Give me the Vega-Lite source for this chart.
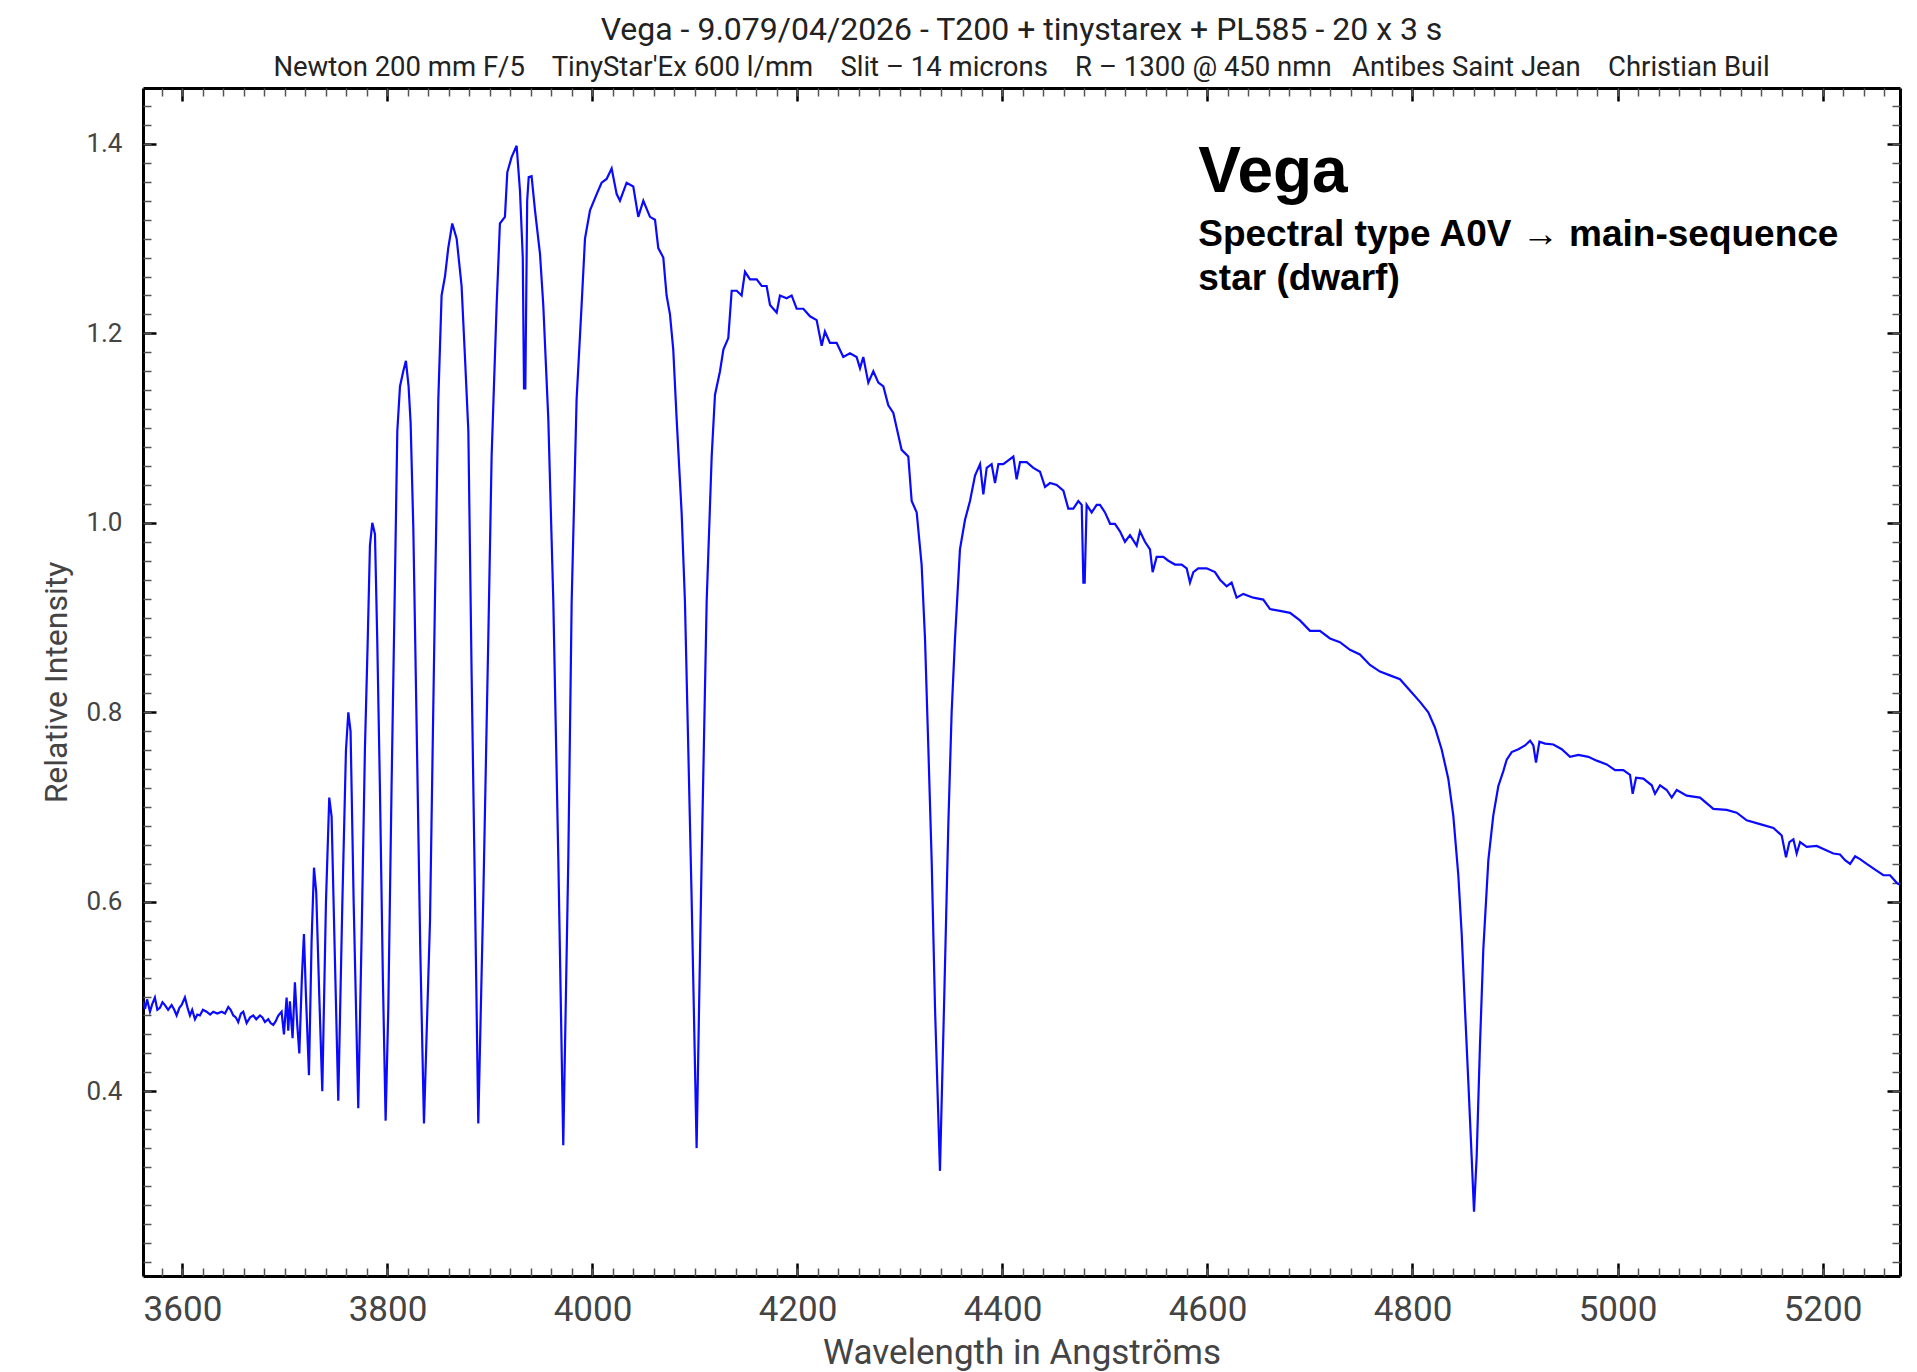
{
  "$schema": "https://vega.github.io/schema/vega-lite/v6.json",
  "width": 1757,
  "height": 1188,
  "autosize": {"type": "none"},
  "padding": {"left": 143, "top": 88, "right": 17, "bottom": 96},
  "background": "white",
  "config": {"view": {"stroke": null}, "axis": {"grid": false}},
  "title": {
    "text": "Vega - 9.079/04/2026 - T200 + tinystarex + PL585 - 20 x 3 s",
    "subtitle": "Newton 200 mm F/5\u00a0\u00a0\u00a0 TinyStar'Ex 600 l/mm\u00a0\u00a0\u00a0 Slit \u2013 14 microns\u00a0\u00a0\u00a0 R \u2013 1300 @ 450 nmn\u00a0\u00a0 Antibes Saint Jean\u00a0\u00a0\u00a0 Christian Buil",
    "font": "Roboto", "fontSize": 32, "fontWeight": "normal", "color": "#222",
    "subtitleFont": "Roboto", "subtitleFontSize": 27.5, "subtitleColor": "#222",
    "anchor": "middle", "offset": 4, "subtitlePadding": 7
  },
  "data": {"values": [
    {"wl":3561.5,"v":0.495},{"wl":3563.5,"v":0.487},{"wl":3565.5,"v":0.497},{"wl":3568.3,"v":0.484},{"wl":3570.5,"v":0.492},
    {"wl":3573.1,"v":0.499},{"wl":3575.5,"v":0.486},{"wl":3578.0,"v":0.488},{"wl":3580.5,"v":0.494},{"wl":3582.9,"v":0.491},
    {"wl":3586.0,"v":0.486},{"wl":3589.4,"v":0.491},{"wl":3592.0,"v":0.486},{"wl":3594.3,"v":0.480},{"wl":3597.0,"v":0.488},
    {"wl":3599.2,"v":0.491},{"wl":3602.4,"v":0.499},{"wl":3605.0,"v":0.488},{"wl":3607.3,"v":0.480},{"wl":3609.5,"v":0.486},
    {"wl":3612.2,"v":0.476},{"wl":3614.5,"v":0.481},{"wl":3617.0,"v":0.480},{"wl":3620.0,"v":0.486},{"wl":3623.5,"v":0.484},
    {"wl":3627.0,"v":0.481},{"wl":3630.0,"v":0.484},{"wl":3634.0,"v":0.482},{"wl":3638.2,"v":0.484},{"wl":3641.5,"v":0.482},
    {"wl":3644.7,"v":0.489},{"wl":3647.0,"v":0.486},{"wl":3649.6,"v":0.480},{"wl":3652.0,"v":0.478},{"wl":3654.4,"v":0.473},
    {"wl":3657.0,"v":0.482},{"wl":3659.3,"v":0.484},{"wl":3662.6,"v":0.472},{"wl":3666.0,"v":0.478},{"wl":3669.1,"v":0.480},
    {"wl":3672.0,"v":0.476},{"wl":3675.6,"v":0.480},{"wl":3678.0,"v":0.478},{"wl":3680.5,"v":0.473},{"wl":3683.7,"v":0.476},
    {"wl":3686.0,"v":0.472},{"wl":3688.6,"v":0.470},{"wl":3691.0,"v":0.474},{"wl":3693.5,"v":0.480},{"wl":3696.7,"v":0.484},
    {"wl":3699.0,"v":0.460},{"wl":3701.6,"v":0.499},{"wl":3703.2,"v":0.464},{"wl":3704.8,"v":0.495},{"wl":3707.4,"v":0.456},
    {"wl":3709.7,"v":0.515},{"wl":3712.0,"v":0.470},{"wl":3714.0,"v":0.440},{"wl":3716.5,"v":0.520},{"wl":3718.5,"v":0.566},
    {"wl":3720.5,"v":0.500},{"wl":3723.4,"v":0.417},{"wl":3726.0,"v":0.560},{"wl":3728.3,"v":0.636},{"wl":3730.5,"v":0.610},
    {"wl":3733.5,"v":0.500},{"wl":3736.4,"v":0.400},{"wl":3740.0,"v":0.600},{"wl":3743.2,"v":0.710},{"wl":3745.5,"v":0.690},
    {"wl":3748.5,"v":0.550},{"wl":3752.0,"v":0.390},{"wl":3756.0,"v":0.600},{"wl":3759.5,"v":0.760},{"wl":3761.8,"v":0.800},
    {"wl":3764.0,"v":0.780},{"wl":3767.0,"v":0.600},{"wl":3771.5,"v":0.382},{"wl":3774.8,"v":0.566},{"wl":3778.0,"v":0.761},
    {"wl":3780.6,"v":0.870},{"wl":3782.9,"v":0.976},{"wl":3785.2,"v":1.000},{"wl":3787.8,"v":0.988},{"wl":3790.0,"v":0.878},
    {"wl":3792.6,"v":0.722},{"wl":3795.5,"v":0.520},{"wl":3798.2,"v":0.369},{"wl":3800.8,"v":0.487},{"wl":3804.0,"v":0.722},
    {"wl":3807.3,"v":0.940},{"wl":3809.6,"v":1.097},{"wl":3812.2,"v":1.144},{"wl":3815.4,"v":1.160},{"wl":3818.0,"v":1.171},
    {"wl":3820.6,"v":1.144},{"wl":3822.6,"v":1.105},{"wl":3825.2,"v":0.995},{"wl":3829.0,"v":0.750},{"wl":3832.0,"v":0.550},
    {"wl":3835.6,"v":0.366},{"wl":3841.5,"v":0.580},{"wl":3846.3,"v":0.917},{"wl":3849.6,"v":1.130},{"wl":3852.8,"v":1.240},
    {"wl":3856.1,"v":1.260},{"wl":3859.3,"v":1.290},{"wl":3863.2,"v":1.316},{"wl":3867.5,"v":1.300},{"wl":3872.3,"v":1.250},
    {"wl":3875.6,"v":1.175},{"wl":3878.9,"v":1.097},{"wl":3882.1,"v":0.840},{"wl":3885.4,"v":0.605},{"wl":3888.6,"v":0.366},
    {"wl":3893.5,"v":0.605},{"wl":3898.4,"v":0.880},{"wl":3901.6,"v":1.070},{"wl":3906.5,"v":1.230},{"wl":3909.7,"v":1.316},
    {"wl":3914.6,"v":1.323},{"wl":3916.9,"v":1.370},{"wl":3921.1,"v":1.386},{"wl":3926.0,"v":1.398},{"wl":3929.3,"v":1.350},
    {"wl":3932.0,"v":1.280},{"wl":3933.2,"v":1.142},{"wl":3934.5,"v":1.142},{"wl":3936.3,"v":1.340},{"wl":3937.8,"v":1.365},
    {"wl":3940.6,"v":1.366},{"wl":3943.9,"v":1.330},{"wl":3948.8,"v":1.284},{"wl":3952.0,"v":1.230},{"wl":3956.9,"v":1.110},
    {"wl":3961.8,"v":0.917},{"wl":3966.7,"v":0.644},{"wl":3971.5,"v":0.343},{"wl":3976.4,"v":0.644},{"wl":3979.7,"v":0.917},
    {"wl":3984.5,"v":1.130},{"wl":3989.4,"v":1.230},{"wl":3992.7,"v":1.300},{"wl":3997.6,"v":1.330},{"wl":4004.1,"v":1.347},
    {"wl":4008.9,"v":1.359},{"wl":4013.8,"v":1.363},{"wl":4018.7,"v":1.374},{"wl":4023.6,"v":1.347},{"wl":4026.8,"v":1.340},
    {"wl":4033.3,"v":1.359},{"wl":4039.8,"v":1.355},{"wl":4044.7,"v":1.323},{"wl":4049.6,"v":1.340},{"wl":4056.1,"v":1.323},
    {"wl":4061.0,"v":1.320},{"wl":4064.2,"v":1.290},{"wl":4069.1,"v":1.280},{"wl":4072.3,"v":1.240},{"wl":4075.6,"v":1.220},
    {"wl":4078.8,"v":1.183},{"wl":4082.1,"v":1.110},{"wl":4087.0,"v":1.010},{"wl":4090.2,"v":0.917},{"wl":4093.5,"v":0.760},
    {"wl":4096.7,"v":0.605},{"wl":4101.6,"v":0.340},{"wl":4106.5,"v":0.644},{"wl":4111.4,"v":0.917},{"wl":4116.3,"v":1.070},
    {"wl":4119.5,"v":1.135},{"wl":4124.4,"v":1.160},{"wl":4127.7,"v":1.183},{"wl":4132.5,"v":1.195},{"wl":4135.8,"v":1.245},
    {"wl":4140.7,"v":1.245},{"wl":4145.5,"v":1.240},{"wl":4148.8,"v":1.265},{"wl":4153.7,"v":1.257},{"wl":4160.2,"v":1.257},
    {"wl":4165.1,"v":1.250},{"wl":4169.9,"v":1.250},{"wl":4173.2,"v":1.230},{"wl":4176.4,"v":1.226},{"wl":4179.7,"v":1.222},
    {"wl":4182.9,"v":1.240},{"wl":4189.4,"v":1.237},{"wl":4194.3,"v":1.240},{"wl":4199.2,"v":1.226},{"wl":4205.7,"v":1.226},
    {"wl":4212.2,"v":1.218},{"wl":4218.7,"v":1.214},{"wl":4223.6,"v":1.187},{"wl":4226.8,"v":1.202},{"wl":4231.7,"v":1.190},
    {"wl":4238.2,"v":1.190},{"wl":4244.7,"v":1.175},{"wl":4251.2,"v":1.179},{"wl":4257.7,"v":1.175},{"wl":4261.0,"v":1.163},
    {"wl":4264.2,"v":1.175},{"wl":4269.1,"v":1.148},{"wl":4274.0,"v":1.160},{"wl":4278.9,"v":1.148},{"wl":4283.8,"v":1.144},
    {"wl":4288.6,"v":1.124},{"wl":4293.5,"v":1.116},{"wl":4296.8,"v":1.100},{"wl":4301.6,"v":1.077},{"wl":4308.1,"v":1.070},
    {"wl":4311.4,"v":1.023},{"wl":4316.3,"v":1.011},{"wl":4321.1,"v":0.956},{"wl":4324.4,"v":0.878},{"wl":4327.7,"v":0.761},
    {"wl":4330.9,"v":0.644},{"wl":4334.2,"v":0.487},{"wl":4339.0,"v":0.316},{"wl":4342.9,"v":0.487},{"wl":4347.2,"v":0.683},
    {"wl":4350.4,"v":0.800},{"wl":4353.7,"v":0.878},{"wl":4358.5,"v":0.972},{"wl":4363.4,"v":1.003},{"wl":4368.3,"v":1.023},
    {"wl":4373.2,"v":1.050},{"wl":4378.1,"v":1.062},{"wl":4381.3,"v":1.030},{"wl":4384.6,"v":1.058},{"wl":4389.4,"v":1.062},
    {"wl":4392.7,"v":1.042},{"wl":4396.0,"v":1.062},{"wl":4400.8,"v":1.062},{"wl":4405.7,"v":1.066},{"wl":4410.6,"v":1.070},
    {"wl":4413.8,"v":1.046},{"wl":4417.1,"v":1.064},{"wl":4423.6,"v":1.064},{"wl":4430.1,"v":1.058},{"wl":4436.6,"v":1.054},
    {"wl":4441.5,"v":1.038},{"wl":4446.4,"v":1.042},{"wl":4452.9,"v":1.040},{"wl":4459.4,"v":1.034},{"wl":4464.2,"v":1.015},
    {"wl":4469.1,"v":1.015},{"wl":4474.0,"v":1.023},{"wl":4477.3,"v":1.019},{"wl":4478.9,"v":0.937},{"wl":4480.2,"v":0.937},
    {"wl":4482.1,"v":1.019},{"wl":4487.0,"v":1.011},{"wl":4491.9,"v":1.019},{"wl":4495.1,"v":1.019},{"wl":4500.0,"v":1.011},
    {"wl":4505.0,"v":0.999},{"wl":4509.7,"v":0.999},{"wl":4514.6,"v":0.991},{"wl":4519.5,"v":0.980},{"wl":4524.4,"v":0.987},
    {"wl":4530.9,"v":0.976},{"wl":4534.1,"v":0.991},{"wl":4539.0,"v":0.980},{"wl":4543.9,"v":0.972},{"wl":4546.5,"v":0.948},
    {"wl":4550.4,"v":0.964},{"wl":4556.9,"v":0.964},{"wl":4561.8,"v":0.960},{"wl":4568.3,"v":0.956},{"wl":4574.8,"v":0.956},
    {"wl":4579.7,"v":0.952},{"wl":4582.9,"v":0.937},{"wl":4586.2,"v":0.948},{"wl":4591.0,"v":0.952},{"wl":4599.2,"v":0.952},
    {"wl":4607.3,"v":0.948},{"wl":4612.2,"v":0.940},{"wl":4618.7,"v":0.933},{"wl":4623.5,"v":0.937},{"wl":4628.4,"v":0.921},
    {"wl":4634.9,"v":0.925},{"wl":4644.7,"v":0.921},{"wl":4654.4,"v":0.919},{"wl":4661.0,"v":0.909},{"wl":4670.7,"v":0.907},
    {"wl":4680.5,"v":0.905},{"wl":4690.2,"v":0.897},{"wl":4700.0,"v":0.886},{"wl":4709.7,"v":0.886},{"wl":4719.5,"v":0.878},
    {"wl":4729.2,"v":0.874},{"wl":4739.0,"v":0.866},{"wl":4748.7,"v":0.861},{"wl":4758.5,"v":0.850},{"wl":4768.3,"v":0.843},
    {"wl":4778.0,"v":0.839},{"wl":4787.8,"v":0.835},{"wl":4797.5,"v":0.823},{"wl":4807.3,"v":0.811},{"wl":4815.4,"v":0.800},
    {"wl":4821.9,"v":0.784},{"wl":4828.4,"v":0.761},{"wl":4834.9,"v":0.730},{"wl":4839.8,"v":0.691},{"wl":4844.7,"v":0.628},
    {"wl":4848.0,"v":0.566},{"wl":4851.2,"v":0.487},{"wl":4854.5,"v":0.409},{"wl":4857.7,"v":0.331},{"wl":4860.0,"v":0.273},
    {"wl":4862.6,"v":0.331},{"wl":4865.8,"v":0.448},{"wl":4869.1,"v":0.550},{"wl":4874.0,"v":0.644},{"wl":4878.8,"v":0.691},
    {"wl":4883.7,"v":0.722},{"wl":4888.6,"v":0.738},{"wl":4891.9,"v":0.750},{"wl":4896.8,"v":0.758},{"wl":4903.3,"v":0.761},
    {"wl":4909.8,"v":0.765},{"wl":4914.7,"v":0.770},{"wl":4917.9,"v":0.765},{"wl":4920.5,"v":0.747},{"wl":4923.8,"v":0.769},
    {"wl":4929.3,"v":0.767},{"wl":4937.4,"v":0.766},{"wl":4945.6,"v":0.761},{"wl":4953.7,"v":0.753},{"wl":4961.8,"v":0.755},
    {"wl":4971.6,"v":0.753},{"wl":4979.7,"v":0.749},{"wl":4989.5,"v":0.745},{"wl":4997.6,"v":0.739},{"wl":5005.7,"v":0.739},
    {"wl":5012.2,"v":0.734},{"wl":5014.8,"v":0.714},{"wl":5018.1,"v":0.731},{"wl":5025.2,"v":0.730},{"wl":5033.4,"v":0.723},
    {"wl":5036.6,"v":0.714},{"wl":5041.5,"v":0.723},{"wl":5048.0,"v":0.718},{"wl":5052.9,"v":0.710},{"wl":5057.8,"v":0.718},
    {"wl":5067.5,"v":0.712},{"wl":5080.5,"v":0.710},{"wl":5093.5,"v":0.698},{"wl":5106.5,"v":0.697},{"wl":5116.3,"v":0.694},
    {"wl":5126.0,"v":0.686},{"wl":5139.0,"v":0.682},{"wl":5152.1,"v":0.678},{"wl":5160.2,"v":0.670},{"wl":5164.4,"v":0.647},
    {"wl":5167.7,"v":0.663},{"wl":5171.6,"v":0.666},{"wl":5174.8,"v":0.651},{"wl":5178.1,"v":0.663},{"wl":5184.6,"v":0.658},
    {"wl":5194.3,"v":0.659},{"wl":5202.5,"v":0.655},{"wl":5210.6,"v":0.651},{"wl":5217.1,"v":0.650},{"wl":5222.0,"v":0.644},
    {"wl":5226.9,"v":0.640},{"wl":5231.8,"v":0.648},{"wl":5236.6,"v":0.645},{"wl":5243.1,"v":0.640},{"wl":5251.3,"v":0.634},
    {"wl":5259.4,"v":0.628},{"wl":5265.9,"v":0.628},{"wl":5272.4,"v":0.620},{"wl":5275.6,"v":0.618}
  ]},
  "resolve": {"axis": {"x": "independent", "y": "independent"}},
  "layer": [
    {
      "mark": {"type": "line", "color": "#0a0aff", "strokeWidth": 2.2, "clip": true},
      "encoding": {
        "x": {"field": "wl", "type": "quantitative",
          "scale": {"domain": [3561.5, 5275.6], "nice": false, "zero": false},
          "axis": {"orient": "bottom", "values": [3600,3800,4000,4200,4400,4600,4800,5000,5200], "format": "d",
            "tickSize": -13, "tickWidth": 2.5, "tickColor": "#000", "domainColor": "#000", "domainWidth": 3,
            "labelFont": "Roboto", "labelFontSize": 35, "labelColor": "#444", "labelPadding": 29,
            "labelFlush": false, "labelOverlap": false,
            "title": "Wavelength in Angströms", "titleFont": "Roboto", "titleFontSize": 35, "titleFontWeight": "normal",
            "titleColor": "#444", "titlePadding": 8}},
        "y": {"field": "v", "type": "quantitative",
          "scale": {"domain": [0.205, 1.459], "nice": false, "zero": false},
          "axis": {"orient": "left", "values": [0.4,0.6,0.8,1.0,1.2,1.4], "format": ".1f",
            "tickSize": -13, "tickWidth": 2.5, "tickColor": "#000", "domainColor": "#000", "domainWidth": 3,
            "labelFont": "Roboto", "labelFontSize": 26, "labelColor": "#444", "labelPadding": 34,
            "labelFlush": false, "labelOverlap": false,
            "title": "Relative Intensity", "titleFont": "Roboto", "titleFontSize": 32, "titleFontWeight": "normal",
            "titleColor": "#444", "titlePadding": 12}}
      }
    },
    {
      "mark": {"type": "point", "opacity": 0},
      "encoding": {
        "x": {"field": "wl", "type": "quantitative",
          "axis": {"orient": "bottom", "values": [3580,3600,3620,3640,3660,3680,3700,3720,3740,3760,3780,3800,3820,3840,3860,3880,3900,3920,3940,3960,3980,4000,4020,4040,4060,4080,4100,4120,4140,4160,4180,4200,4220,4240,4260,4280,4300,4320,4340,4360,4380,4400,4420,4440,4460,4480,4500,4520,4540,4560,4580,4600,4620,4640,4660,4680,4700,4720,4740,4760,4780,4800,4820,4840,4860,4880,4900,4920,4940,4960,4980,5000,5020,5040,5060,5080,5100,5120,5140,5160,5180,5200,5220,5240,5260],
            "tickSize": -8, "tickWidth": 1.5, "tickColor": "#555", "labels": false, "domain": false, "title": null}},
        "y": {"field": "v", "type": "quantitative",
          "axis": {"orient": "left", "values": [0.22,0.24,0.26,0.28,0.3,0.32,0.34,0.36,0.38,0.4,0.42,0.44,0.46,0.48,0.5,0.52,0.54,0.56,0.58,0.6,0.62,0.64,0.66,0.68,0.7,0.72,0.74,0.76,0.78,0.8,0.82,0.84,0.86,0.88,0.9,0.92,0.94,0.96,0.98,1.0,1.02,1.04,1.06,1.08,1.1,1.12,1.14,1.16,1.18,1.2,1.22,1.24,1.26,1.28,1.3,1.32,1.34,1.36,1.38,1.4,1.42,1.44],
            "tickSize": -8, "tickWidth": 1.5, "tickColor": "#555", "labels": false, "domain": false, "title": null}}
      }
    },
    {
      "mark": {"type": "point", "opacity": 0},
      "encoding": {
        "x": {"field": "wl", "type": "quantitative",
          "axis": {"orient": "top", "values": [3600,3800,4000,4200,4400,4600,4800,5000,5200],
            "tickSize": -13, "tickWidth": 2.5, "tickColor": "#000", "labels": false,
            "domain": true, "domainColor": "#000", "domainWidth": 3, "title": null}},
        "y": {"field": "v", "type": "quantitative",
          "axis": {"orient": "right", "values": [0.4,0.6,0.8,1.0,1.2,1.4],
            "tickSize": -13, "tickWidth": 2.5, "tickColor": "#000", "labels": false,
            "domain": true, "domainColor": "#000", "domainWidth": 3, "title": null}}
      }
    },
    {
      "mark": {"type": "point", "opacity": 0},
      "encoding": {
        "x": {"field": "wl", "type": "quantitative",
          "axis": {"orient": "top", "values": [3580,3600,3620,3640,3660,3680,3700,3720,3740,3760,3780,3800,3820,3840,3860,3880,3900,3920,3940,3960,3980,4000,4020,4040,4060,4080,4100,4120,4140,4160,4180,4200,4220,4240,4260,4280,4300,4320,4340,4360,4380,4400,4420,4440,4460,4480,4500,4520,4540,4560,4580,4600,4620,4640,4660,4680,4700,4720,4740,4760,4780,4800,4820,4840,4860,4880,4900,4920,4940,4960,4980,5000,5020,5040,5060,5080,5100,5120,5140,5160,5180,5200,5220,5240,5260],
            "tickSize": -8, "tickWidth": 1.5, "tickColor": "#555", "labels": false, "domain": false, "title": null}},
        "y": {"field": "v", "type": "quantitative",
          "axis": {"orient": "right", "values": [0.22,0.24,0.26,0.28,0.3,0.32,0.34,0.36,0.38,0.4,0.42,0.44,0.46,0.48,0.5,0.52,0.54,0.56,0.58,0.6,0.62,0.64,0.66,0.68,0.7,0.72,0.74,0.76,0.78,0.8,0.82,0.84,0.86,0.88,0.9,0.92,0.94,0.96,0.98,1.0,1.02,1.04,1.06,1.08,1.1,1.12,1.14,1.16,1.18,1.2,1.22,1.24,1.26,1.28,1.3,1.32,1.34,1.36,1.38,1.4,1.42,1.44],
            "tickSize": -8, "tickWidth": 1.5, "tickColor": "#555", "labels": false, "domain": false, "title": null}}
      }
    },
    {
      "data": {"values": [{}]},
      "mark": {"type": "text", "text": "Vega", "font": "Liberation Sans", "fontSize": 64, "fontWeight": "bold",
        "align": "left", "baseline": "alphabetic", "color": "#000"},
      "encoding": {
        "x": {"datum": 4591, "type": "quantitative", "axis": null},
        "y": {"datum": 1.349, "type": "quantitative", "axis": null}
      }
    },
    {
      "data": {"values": [{}]},
      "mark": {"type": "text", "text": ["Spectral type A0V \u2192 main-sequence", "star (dwarf)"],
        "font": "Liberation Sans", "fontSize": 37, "fontWeight": "bold", "lineHeight": 44,
        "align": "left", "baseline": "alphabetic", "color": "#000"},
      "encoding": {
        "x": {"datum": 4591, "type": "quantitative", "axis": null},
        "y": {"datum": 1.292, "type": "quantitative", "axis": null}
      }
    }
  ]
}
